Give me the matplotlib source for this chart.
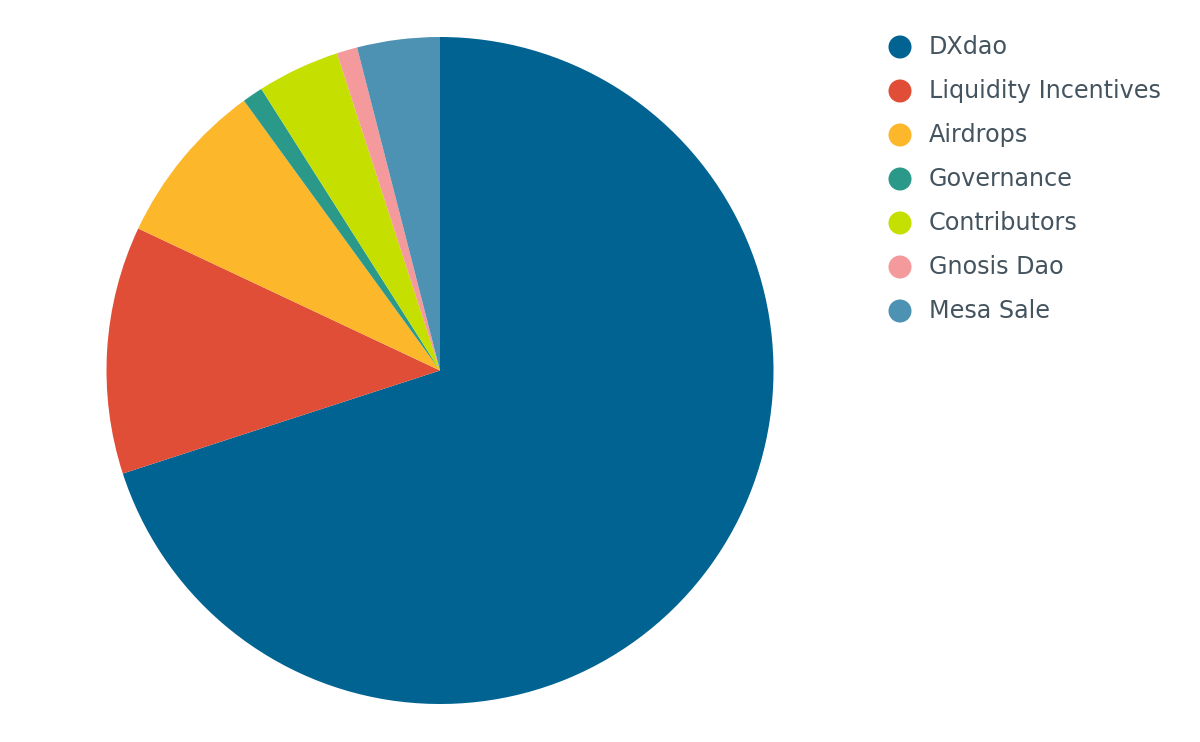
import matplotlib
matplotlib.use("Agg")
import matplotlib.pyplot as plt

labels = ["DXdao", "Liquidity Incentives", "Airdrops", "Governance",
          "Contributors", "Gnosis Dao", "Mesa Sale"]
values = [70, 12, 8, 1, 4, 1, 4]
colors = ["#006391", "#e14e38", "#fdb72a", "#2a998a",
          "#c4df00", "#f49a9c", "#4d92b3"]

W, H = 1200, 742
fig = plt.figure(figsize=(W / 100, H / 100), dpi=100)
fig.patch.set_facecolor("white")

cx, cy, r = 440, 370.5, 333.5
ax = fig.add_axes([(cx - r) / W, (H - cy - r) / H, 2 * r / W, 2 * r / H])
ax.pie(values, colors=colors, startangle=90, counterclock=False, radius=1,
       wedgeprops=dict(linewidth=0))
ax.set_xlim(-1, 1)
ax.set_ylim(-1, 1)
ax.axis("off")

# legend
lax = fig.add_axes([0, 0, 1, 1])
lax.set_xlim(0, W)
lax.set_ylim(H, 0)
lax.axis("off")
y0, dy = 47, 44
for i, (lab, col) in enumerate(zip(labels, colors)):
    y = y0 + i * dy
    lax.scatter([900], [y], s=275, color=col, edgecolors="none")
    lax.text(929, y, lab, fontsize=17.2, color="#44545f", va="center",
             ha="left", family="DejaVu Sans")

fig.savefig("out.png", dpi=100, facecolor="white")
